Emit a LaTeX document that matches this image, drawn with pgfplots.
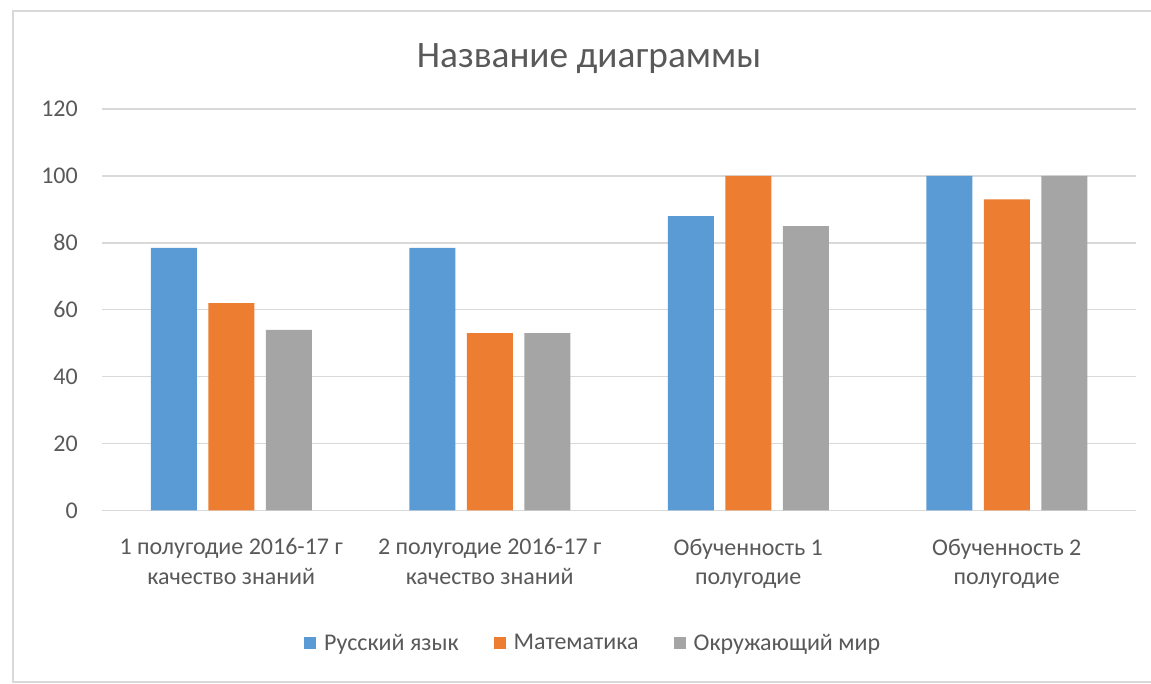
\documentclass[border=0pt]{standalone}
\usepackage{fontspec}
\setmainfont{Carlito}
\usepackage{pgfplots}
\pgfplotsset{compat=1.18}
\definecolor{cblue}{HTML}{5B9BD5}
\definecolor{corange}{HTML}{ED7D31}
\definecolor{cgray}{HTML}{A5A5A5}
\definecolor{textc}{HTML}{595959}
\definecolor{gridc}{HTML}{D9D9D9}

\begin{document}
\begin{tikzpicture}[x=1pt,y=1pt]
\useasboundingbox (0,0) rectangle (1151,684);
\draw[gridc, line width=2pt] (1152,673) -- (13,673) -- (13,2) -- (1152,2);
\begin{axis}[
  at={(102pt,173.5pt)}, anchor=south west,
  x=258.5pt, y=3.345pt,
  xmin=-0.5, xmax=3.5, ymin=0, ymax=120,
  ybar, bar width=46pt,
  axis line style={draw=none},
  major tick length=0pt,
  ymajorgrids, grid style={gridc, line width=1.3pt},
  ytick={0,20,...,120},
  xtick={0,1,2,3},
  xticklabels={{1 полугодие 2016-17 г\\качество знаний},
               {2 полугодие 2016-17 г\\качество знаний},
               {Обученность 1\\полугодие},
               {Обученность 2\\полугодие}},
  /pgf/number format/assume math mode=true,
  ticklabel style={font=\fontsize{24}{29.5}\selectfont, text=textc},
  xticklabel style={align=center, anchor=north, inner sep=0pt, yshift=-28pt},
  yticklabel style={anchor=east, inner sep=0pt, xshift=-24pt},
  title={Название диаграммы},
  title style={at={(0.471,1.11)}, anchor=center,
    font=\fontsize{37.3}{45}\selectfont, text=textc},
  legend columns=3,
  legend style={at={(0.475,-0.33)}, anchor=center, draw=none,
    font=\fontsize{24}{29}\selectfont, text=textc,
    /tikz/every odd column/.append style={column sep=6pt},
    /tikz/every even column/.append style={column sep=33pt}},
  legend image code/.code={\path[#1,draw=none] (0pt,-6pt) rectangle (12pt,6pt);},
]
\addplot[fill=cblue, draw=none, bar shift=-57.5pt]
  coordinates {(0,78.5) (1,78.5) (2,88) (3,100)};
\addplot[fill=corange, draw=none, bar shift=0pt]
  coordinates {(0,62) (1,53) (2,100) (3,93)};
\addplot[fill=cgray, draw=none, bar shift=57.5pt]
  coordinates {(0,54) (1,53) (2,85) (3,100)};
\legend{Русский язык, Математика, Окружающий мир}
\end{axis}
\end{tikzpicture}
\end{document}
